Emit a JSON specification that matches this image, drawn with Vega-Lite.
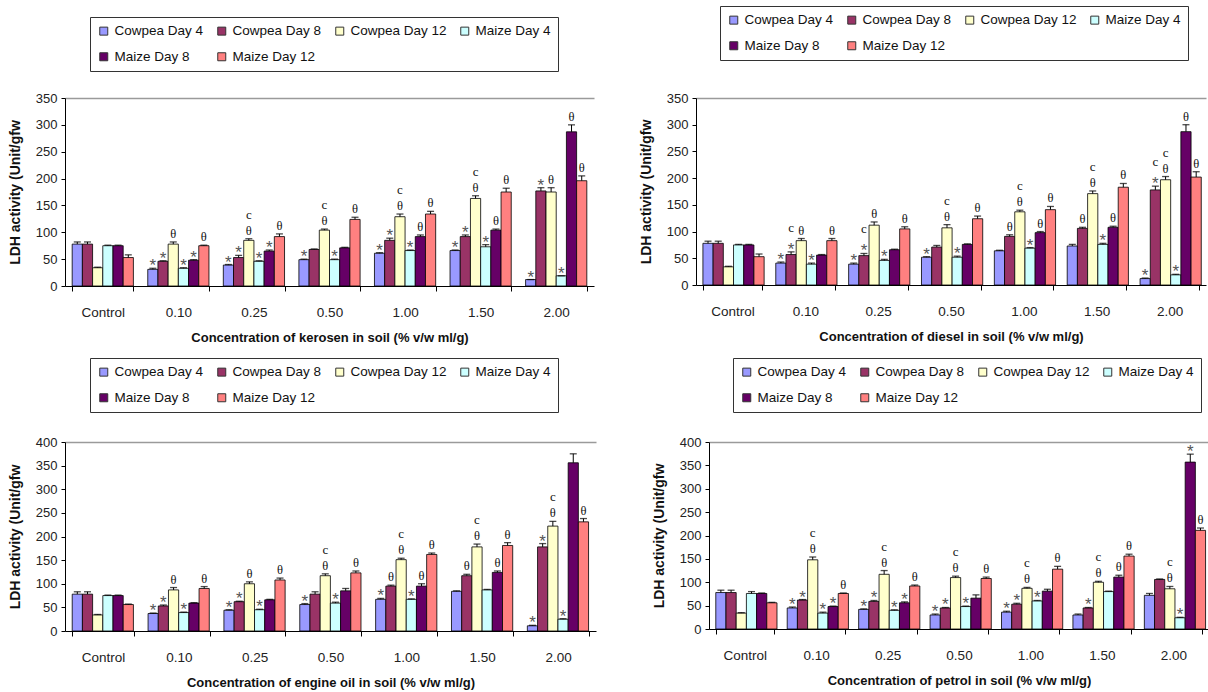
{
"$schema":"https://vega.github.io/schema/vega-lite/v6.json",
"padding":{"left":8,"top":5,"right":0,"bottom":0},
"background":"white",
"config":{
 "view":{"stroke":null},
 "axis":{"labelFont":"Liberation Sans","labelColor":"#222","domainColor":"#000","tickColor":"#000","titleFont":"Liberation Sans","titleFontWeight":"bold","titleColor":"#111"},
 "axisX":{"tickBand":"extent","labelAngle":0,"labelFontSize":13.5,"labelPadding":14,"tickSize":5,"titlePadding":13,"titleFontSize":13},
 "axisY":{"labelFontSize":13,"tickSize":4,"labelPadding":4,"titlePadding":13,"titleFontSize":14,"grid":true,"gridColor":"#9a9a9a","gridWidth":1.5},
 "legend":{"orient":"none","direction":"horizontal","columns":4,"gridAlign":"each","title":null,"symbolType":"square","symbolSize":64,"symbolStrokeColor":"#333","symbolStrokeWidth":1,"labelFont":"Liberation Sans","labelFontSize":13.5,"labelColor":"#111","labelOffset":4,"columnPadding":11,"rowPadding":11,"padding":7,"strokeColor":"#333","strokeWidth":1,"labelLimit":300}
},
"datasets":{
"kerosene":[
{"c":"Control","s":"Cowpea Day 4","v":78,"hi":82,"m":"","k":""},
{"c":"Control","s":"Cowpea Day 8","v":78,"hi":82,"m":"","k":""},
{"c":"Control","s":"Cowpea Day 12","v":34,"hi":35,"m":"","k":""},
{"c":"Control","s":"Maize Day 4","v":75,"hi":76,"m":"","k":""},
{"c":"Control","s":"Maize Day 8","v":75,"hi":76,"m":"","k":""},
{"c":"Control","s":"Maize Day 12","v":53,"hi":58,"m":"","k":""},
{"c":"0.10","s":"Cowpea Day 4","v":31,"hi":33,"m":"*","k":""},
{"c":"0.10","s":"Cowpea Day 8","v":46,"hi":47,"m":"*","k":""},
{"c":"0.10","s":"Cowpea Day 12","v":78,"hi":82,"m":"θ","k":""},
{"c":"0.10","s":"Maize Day 4","v":33,"hi":34,"m":"*","k":""},
{"c":"0.10","s":"Maize Day 8","v":48,"hi":49,"m":"*","k":""},
{"c":"0.10","s":"Maize Day 12","v":75,"hi":76,"m":"θ","k":""},
{"c":"0.25","s":"Cowpea Day 4","v":39,"hi":40,"m":"*","k":""},
{"c":"0.25","s":"Cowpea Day 8","v":53,"hi":57,"m":"*","k":""},
{"c":"0.25","s":"Cowpea Day 12","v":85,"hi":88,"m":"θ","k":"c"},
{"c":"0.25","s":"Maize Day 4","v":46,"hi":47,"m":"*","k":""},
{"c":"0.25","s":"Maize Day 8","v":65,"hi":67,"m":"*","k":""},
{"c":"0.25","s":"Maize Day 12","v":92,"hi":97,"m":"θ","k":""},
{"c":"0.50","s":"Cowpea Day 4","v":49,"hi":50,"m":"*","k":""},
{"c":"0.50","s":"Cowpea Day 8","v":68,"hi":69,"m":"","k":""},
{"c":"0.50","s":"Cowpea Day 12","v":104,"hi":106,"m":"θ","k":"c"},
{"c":"0.50","s":"Maize Day 4","v":49,"hi":50,"m":"*","k":""},
{"c":"0.50","s":"Maize Day 8","v":71,"hi":72,"m":"","k":""},
{"c":"0.50","s":"Maize Day 12","v":124,"hi":128,"m":"θ","k":""},
{"c":"1.00","s":"Cowpea Day 4","v":61,"hi":62,"m":"*","k":""},
{"c":"1.00","s":"Cowpea Day 8","v":85,"hi":89,"m":"*","k":""},
{"c":"1.00","s":"Cowpea Day 12","v":129,"hi":134,"m":"θ","k":"c"},
{"c":"1.00","s":"Maize Day 4","v":66,"hi":67,"m":"*","k":""},
{"c":"1.00","s":"Maize Day 8","v":92,"hi":95,"m":"θ","k":""},
{"c":"1.00","s":"Maize Day 12","v":134,"hi":139,"m":"θ","k":""},
{"c":"1.50","s":"Cowpea Day 4","v":66,"hi":67,"m":"*","k":""},
{"c":"1.50","s":"Cowpea Day 8","v":92,"hi":95,"m":"*","k":""},
{"c":"1.50","s":"Cowpea Day 12","v":163,"hi":168,"m":"θ","k":"c"},
{"c":"1.50","s":"Maize Day 4","v":73,"hi":77,"m":"*","k":""},
{"c":"1.50","s":"Maize Day 8","v":104,"hi":106,"m":"θ","k":""},
{"c":"1.50","s":"Maize Day 12","v":175,"hi":182,"m":"θ","k":""},
{"c":"2.00","s":"Cowpea Day 4","v":12,"hi":12,"m":"*","k":""},
{"c":"2.00","s":"Cowpea Day 8","v":177,"hi":183,"m":"*","k":""},
{"c":"2.00","s":"Cowpea Day 12","v":175,"hi":183,"m":"θ","k":""},
{"c":"2.00","s":"Maize Day 4","v":19,"hi":19,"m":"*","k":""},
{"c":"2.00","s":"Maize Day 8","v":287,"hi":300,"m":"θ","k":""},
{"c":"2.00","s":"Maize Day 12","v":196,"hi":205,"m":"θ","k":""}
],
"diesel":[
{"c":"Control","s":"Cowpea Day 4","v":78,"hi":82,"m":"","k":""},
{"c":"Control","s":"Cowpea Day 8","v":78,"hi":82,"m":"","k":""},
{"c":"Control","s":"Cowpea Day 12","v":34,"hi":35,"m":"","k":""},
{"c":"Control","s":"Maize Day 4","v":75,"hi":76,"m":"","k":""},
{"c":"Control","s":"Maize Day 8","v":75,"hi":76,"m":"","k":""},
{"c":"Control","s":"Maize Day 12","v":53,"hi":58,"m":"","k":""},
{"c":"0.10","s":"Cowpea Day 4","v":41,"hi":43,"m":"*","k":""},
{"c":"0.10","s":"Cowpea Day 8","v":57,"hi":62,"m":"*","k":"c"},
{"c":"0.10","s":"Cowpea Day 12","v":83,"hi":87,"m":"θ","k":""},
{"c":"0.10","s":"Maize Day 4","v":39,"hi":41,"m":"*","k":""},
{"c":"0.10","s":"Maize Day 8","v":56,"hi":57,"m":"","k":""},
{"c":"0.10","s":"Maize Day 12","v":83,"hi":87,"m":"θ","k":""},
{"c":"0.25","s":"Cowpea Day 4","v":39,"hi":41,"m":"*","k":""},
{"c":"0.25","s":"Cowpea Day 8","v":55,"hi":59,"m":"*","k":"c"},
{"c":"0.25","s":"Cowpea Day 12","v":112,"hi":118,"m":"θ","k":""},
{"c":"0.25","s":"Maize Day 4","v":46,"hi":48,"m":"*","k":""},
{"c":"0.25","s":"Maize Day 8","v":66,"hi":67,"m":"","k":""},
{"c":"0.25","s":"Maize Day 12","v":105,"hi":109,"m":"θ","k":""},
{"c":"0.50","s":"Cowpea Day 4","v":52,"hi":53,"m":"*","k":""},
{"c":"0.50","s":"Cowpea Day 8","v":71,"hi":74,"m":"","k":""},
{"c":"0.50","s":"Cowpea Day 12","v":107,"hi":113,"m":"θ","k":"c"},
{"c":"0.50","s":"Maize Day 4","v":52,"hi":54,"m":"*","k":""},
{"c":"0.50","s":"Maize Day 8","v":76,"hi":77,"m":"","k":""},
{"c":"0.50","s":"Maize Day 12","v":124,"hi":129,"m":"θ","k":""},
{"c":"1.00","s":"Cowpea Day 4","v":64,"hi":65,"m":"","k":""},
{"c":"1.00","s":"Cowpea Day 8","v":91,"hi":94,"m":"θ","k":""},
{"c":"1.00","s":"Cowpea Day 12","v":137,"hi":140,"m":"θ","k":"c"},
{"c":"1.00","s":"Maize Day 4","v":69,"hi":70,"m":"*","k":""},
{"c":"1.00","s":"Maize Day 8","v":98,"hi":100,"m":"θ","k":""},
{"c":"1.00","s":"Maize Day 12","v":141,"hi":147,"m":"θ","k":""},
{"c":"1.50","s":"Cowpea Day 4","v":73,"hi":76,"m":"","k":""},
{"c":"1.50","s":"Cowpea Day 8","v":106,"hi":108,"m":"θ","k":""},
{"c":"1.50","s":"Cowpea Day 12","v":171,"hi":176,"m":"θ","k":"c"},
{"c":"1.50","s":"Maize Day 4","v":76,"hi":78,"m":"*","k":""},
{"c":"1.50","s":"Maize Day 8","v":108,"hi":110,"m":"θ","k":""},
{"c":"1.50","s":"Maize Day 12","v":183,"hi":190,"m":"θ","k":""},
{"c":"2.00","s":"Cowpea Day 4","v":12,"hi":13,"m":"*","k":""},
{"c":"2.00","s":"Cowpea Day 8","v":178,"hi":185,"m":"*","k":"c"},
{"c":"2.00","s":"Cowpea Day 12","v":197,"hi":203,"m":"θ","k":"c"},
{"c":"2.00","s":"Maize Day 4","v":19,"hi":20,"m":"*","k":""},
{"c":"2.00","s":"Maize Day 8","v":287,"hi":300,"m":"θ","k":""},
{"c":"2.00","s":"Maize Day 12","v":202,"hi":212,"m":"θ","k":""}
],
"engine":[
{"c":"Control","s":"Cowpea Day 4","v":78,"hi":83,"m":"","k":""},
{"c":"Control","s":"Cowpea Day 8","v":78,"hi":83,"m":"","k":""},
{"c":"Control","s":"Cowpea Day 12","v":34,"hi":35,"m":"","k":""},
{"c":"Control","s":"Maize Day 4","v":75,"hi":76,"m":"","k":""},
{"c":"Control","s":"Maize Day 8","v":75,"hi":76,"m":"","k":""},
{"c":"Control","s":"Maize Day 12","v":56,"hi":57,"m":"","k":""},
{"c":"0.10","s":"Cowpea Day 4","v":37,"hi":38,"m":"*","k":""},
{"c":"0.10","s":"Cowpea Day 8","v":53,"hi":55,"m":"*","k":""},
{"c":"0.10","s":"Cowpea Day 12","v":87,"hi":92,"m":"θ","k":""},
{"c":"0.10","s":"Maize Day 4","v":39,"hi":40,"m":"*","k":""},
{"c":"0.10","s":"Maize Day 8","v":59,"hi":60,"m":"","k":""},
{"c":"0.10","s":"Maize Day 12","v":90,"hi":94,"m":"θ","k":""},
{"c":"0.25","s":"Cowpea Day 4","v":44,"hi":45,"m":"*","k":""},
{"c":"0.25","s":"Cowpea Day 8","v":62,"hi":63,"m":"*","k":""},
{"c":"0.25","s":"Cowpea Day 12","v":100,"hi":104,"m":"θ","k":""},
{"c":"0.25","s":"Maize Day 4","v":45,"hi":46,"m":"*","k":""},
{"c":"0.25","s":"Maize Day 8","v":66,"hi":67,"m":"","k":""},
{"c":"0.25","s":"Maize Day 12","v":108,"hi":112,"m":"θ","k":""},
{"c":"0.50","s":"Cowpea Day 4","v":56,"hi":58,"m":"*","k":""},
{"c":"0.50","s":"Cowpea Day 8","v":78,"hi":83,"m":"","k":""},
{"c":"0.50","s":"Cowpea Day 12","v":117,"hi":121,"m":"θ","k":"c"},
{"c":"0.50","s":"Maize Day 4","v":59,"hi":61,"m":"*","k":""},
{"c":"0.50","s":"Maize Day 8","v":85,"hi":90,"m":"","k":""},
{"c":"0.50","s":"Maize Day 12","v":123,"hi":127,"m":"θ","k":""},
{"c":"1.00","s":"Cowpea Day 4","v":67,"hi":69,"m":"*","k":""},
{"c":"1.00","s":"Cowpea Day 8","v":95,"hi":97,"m":"θ","k":""},
{"c":"1.00","s":"Cowpea Day 12","v":151,"hi":154,"m":"θ","k":"c"},
{"c":"1.00","s":"Maize Day 4","v":67,"hi":68,"m":"*","k":""},
{"c":"1.00","s":"Maize Day 8","v":95,"hi":100,"m":"θ","k":""},
{"c":"1.00","s":"Maize Day 12","v":162,"hi":165,"m":"θ","k":""},
{"c":"1.50","s":"Cowpea Day 4","v":84,"hi":85,"m":"","k":""},
{"c":"1.50","s":"Cowpea Day 8","v":117,"hi":120,"m":"θ","k":""},
{"c":"1.50","s":"Cowpea Day 12","v":178,"hi":184,"m":"θ","k":"c"},
{"c":"1.50","s":"Maize Day 4","v":87,"hi":88,"m":"","k":""},
{"c":"1.50","s":"Maize Day 8","v":124,"hi":127,"m":"θ","k":""},
{"c":"1.50","s":"Maize Day 12","v":181,"hi":187,"m":"θ","k":""},
{"c":"2.00","s":"Cowpea Day 4","v":11,"hi":12,"m":"*","k":""},
{"c":"2.00","s":"Cowpea Day 8","v":178,"hi":185,"m":"*","k":""},
{"c":"2.00","s":"Cowpea Day 12","v":222,"hi":232,"m":"θ","k":"c"},
{"c":"2.00","s":"Maize Day 4","v":25,"hi":26,"m":"*","k":""},
{"c":"2.00","s":"Maize Day 8","v":356,"hi":375,"m":"","k":""},
{"c":"2.00","s":"Maize Day 12","v":231,"hi":238,"m":"θ","k":""}
],
"petrol":[
{"c":"Control","s":"Cowpea Day 4","v":78,"hi":83,"m":"","k":""},
{"c":"Control","s":"Cowpea Day 8","v":78,"hi":83,"m":"","k":""},
{"c":"Control","s":"Cowpea Day 12","v":34,"hi":35,"m":"","k":""},
{"c":"Control","s":"Maize Day 4","v":76,"hi":80,"m":"","k":""},
{"c":"Control","s":"Maize Day 8","v":76,"hi":77,"m":"","k":""},
{"c":"Control","s":"Maize Day 12","v":56,"hi":57,"m":"","k":""},
{"c":"0.10","s":"Cowpea Day 4","v":45,"hi":47,"m":"*","k":""},
{"c":"0.10","s":"Cowpea Day 8","v":62,"hi":63,"m":"*","k":""},
{"c":"0.10","s":"Cowpea Day 12","v":148,"hi":154,"m":"θ","k":"c"},
{"c":"0.10","s":"Maize Day 4","v":34,"hi":36,"m":"*","k":""},
{"c":"0.10","s":"Maize Day 8","v":48,"hi":49,"m":"*","k":""},
{"c":"0.10","s":"Maize Day 12","v":76,"hi":77,"m":"θ","k":""},
{"c":"0.25","s":"Cowpea Day 4","v":42,"hi":43,"m":"*","k":""},
{"c":"0.25","s":"Cowpea Day 8","v":59,"hi":61,"m":"*","k":""},
{"c":"0.25","s":"Cowpea Day 12","v":117,"hi":125,"m":"θ","k":"c"},
{"c":"0.25","s":"Maize Day 4","v":40,"hi":41,"m":"*","k":""},
{"c":"0.25","s":"Maize Day 8","v":56,"hi":58,"m":"*","k":""},
{"c":"0.25","s":"Maize Day 12","v":92,"hi":94,"m":"θ","k":""},
{"c":"0.50","s":"Cowpea Day 4","v":30,"hi":32,"m":"*","k":""},
{"c":"0.50","s":"Cowpea Day 8","v":45,"hi":46,"m":"*","k":""},
{"c":"0.50","s":"Cowpea Day 12","v":110,"hi":113,"m":"θ","k":"c"},
{"c":"0.50","s":"Maize Day 4","v":48,"hi":49,"m":"*","k":""},
{"c":"0.50","s":"Maize Day 8","v":66,"hi":73,"m":"","k":""},
{"c":"0.50","s":"Maize Day 12","v":108,"hi":111,"m":"θ","k":""},
{"c":"1.00","s":"Cowpea Day 4","v":36,"hi":38,"m":"*","k":""},
{"c":"1.00","s":"Cowpea Day 8","v":53,"hi":55,"m":"*","k":""},
{"c":"1.00","s":"Cowpea Day 12","v":87,"hi":89,"m":"θ","k":"c"},
{"c":"1.00","s":"Maize Day 4","v":60,"hi":61,"m":"*","k":""},
{"c":"1.00","s":"Maize Day 8","v":81,"hi":85,"m":"","k":""},
{"c":"1.00","s":"Maize Day 12","v":128,"hi":134,"m":"θ","k":""},
{"c":"1.50","s":"Cowpea Day 4","v":30,"hi":32,"m":"","k":""},
{"c":"1.50","s":"Cowpea Day 8","v":45,"hi":46,"m":"*","k":""},
{"c":"1.50","s":"Cowpea Day 12","v":100,"hi":102,"m":"θ","k":"c"},
{"c":"1.50","s":"Maize Day 4","v":80,"hi":81,"m":"","k":""},
{"c":"1.50","s":"Maize Day 8","v":111,"hi":115,"m":"θ","k":""},
{"c":"1.50","s":"Maize Day 12","v":156,"hi":160,"m":"θ","k":""},
{"c":"2.00","s":"Cowpea Day 4","v":72,"hi":76,"m":"","k":""},
{"c":"2.00","s":"Cowpea Day 8","v":106,"hi":107,"m":"","k":""},
{"c":"2.00","s":"Cowpea Day 12","v":86,"hi":91,"m":"θ","k":"c"},
{"c":"2.00","s":"Maize Day 4","v":24,"hi":25,"m":"*","k":""},
{"c":"2.00","s":"Maize Day 8","v":357,"hi":374,"m":"*","k":""},
{"c":"2.00","s":"Maize Day 12","v":211,"hi":216,"m":"θ","k":""}
]
},
"spacing":12,
"resolve":{"scale":{"color":"independent"}},
"vconcat":[
{"spacing":45,"resolve":{"scale":{"color":"independent"}},"hconcat":[
 {"width":529,"height":188,"data":{"name":"kerosene"},
  "encoding":{
   "x":{"field":"c","type":"nominal","sort":["Control","0.10","0.25","0.50","1.00","1.50","2.00"],"scale":{"paddingInner":0.19,"paddingOuter":0.095},"title":"Concentration of kerosen in soil (% v/w ml/g)"},
   "xOffset":{"field":"s","type":"nominal","sort":["Cowpea Day 4","Cowpea Day 8","Cowpea Day 12","Maize Day 4","Maize Day 8","Maize Day 12"],"scale":{"paddingInner":0,"paddingOuter":0}}
  },
  "layer":[
   {"mark":{"type":"bar","stroke":"#000","strokeWidth":0.8},
    "encoding":{
     "y":{"field":"v","type":"quantitative","scale":{"domain":[0,350],"nice":false},"title":"LDH activity (Unit/gfw","axis":{"values":[0,50,100,150,200,250,300,350],"gridOpacity":{"condition":{"test":"datum.value === 350","value":1},"value":0}}},
     "color":{"field":"s","type":"nominal","scale":{"domain":["Cowpea Day 4","Cowpea Day 8","Cowpea Day 12","Maize Day 4","Maize Day 8","Maize Day 12"],"range":["#9999ff","#993366","#ffffcc","#ccffff","#660066","#ff8080"]},"legend":{"legendX":25,"legendY":-81}}}},
   {"mark":{"type":"rule","color":"#000","strokeWidth":1},"encoding":{"y":{"field":"v","type":"quantitative","title":"LDH activity (Unit/gfw","axis":{"values":[0,50,100,150,200,250,300,350],"gridOpacity":{"condition":{"test":"datum.value === 350","value":1},"value":0}}},"y2":{"field":"hi"}}},
   {"mark":{"type":"tick","orient":"horizontal","size":7,"thickness":1.3,"color":"#000"},"encoding":{"y":{"field":"hi","type":"quantitative","title":"LDH activity (Unit/gfw","axis":{"values":[0,50,100,150,200,250,300,350],"gridOpacity":{"condition":{"test":"datum.value === 350","value":1},"value":0}}}}},
   {"transform":[{"filter":"datum.m == '*'"}],"mark":{"type":"text","font":"Liberation Sans","fontSize":17,"color":"#555","baseline":"middle","dy":-2},"encoding":{"y":{"field":"hi","type":"quantitative","title":"LDH activity (Unit/gfw","axis":{"values":[0,50,100,150,200,250,300,350],"gridOpacity":{"condition":{"test":"datum.value === 350","value":1},"value":0}}},"text":{"field":"m"}}},
   {"transform":[{"filter":"datum.m == 'θ'"}],"mark":{"type":"text","font":"Liberation Serif","fontSize":12.5,"color":"#111","baseline":"middle","dy":-8},"encoding":{"y":{"field":"hi","type":"quantitative","title":"LDH activity (Unit/gfw","axis":{"values":[0,50,100,150,200,250,300,350],"gridOpacity":{"condition":{"test":"datum.value === 350","value":1},"value":0}}},"text":{"field":"m"}}},
   {"transform":[{"filter":"datum.k == 'c'"}],"mark":{"type":"text","font":"Liberation Serif","fontSize":13,"color":"#111","baseline":"middle","dy":-24},"encoding":{"y":{"field":"hi","type":"quantitative","title":"LDH activity (Unit/gfw","axis":{"values":[0,50,100,150,200,250,300,350],"gridOpacity":{"condition":{"test":"datum.value === 350","value":1},"value":0}}},"text":{"field":"k"}}}
  ]},
 {"width":510,"height":187,"data":{"name":"diesel"},
  "encoding":{
   "x":{"field":"c","type":"nominal","sort":["Control","0.10","0.25","0.50","1.00","1.50","2.00"],"scale":{"paddingInner":0.19,"paddingOuter":0.095},"title":"Concentration of diesel in soil (% v/w ml/g)"},
   "xOffset":{"field":"s","type":"nominal","sort":["Cowpea Day 4","Cowpea Day 8","Cowpea Day 12","Maize Day 4","Maize Day 8","Maize Day 12"],"scale":{"paddingInner":0,"paddingOuter":0}}
  },
  "layer":[
   {"mark":{"type":"bar","stroke":"#000","strokeWidth":0.8},
    "encoding":{
     "y":{"field":"v","type":"quantitative","scale":{"domain":[0,350],"nice":false},"title":"LDH activity (Unit/gfw","axis":{"values":[0,50,100,150,200,250,300,350],"gridOpacity":{"condition":{"test":"datum.value === 350","value":1},"value":0}}},
     "color":{"field":"s","type":"nominal","scale":{"domain":["Cowpea Day 4","Cowpea Day 8","Cowpea Day 12","Maize Day 4","Maize Day 8","Maize Day 12"],"range":["#9999ff","#993366","#ffffcc","#ccffff","#660066","#ff8080"]},"legend":{"legendX":24,"legendY":-92}}}},
   {"mark":{"type":"rule","color":"#000","strokeWidth":1},"encoding":{"y":{"field":"v","type":"quantitative","title":"LDH activity (Unit/gfw","axis":{"values":[0,50,100,150,200,250,300,350],"gridOpacity":{"condition":{"test":"datum.value === 350","value":1},"value":0}}},"y2":{"field":"hi"}}},
   {"mark":{"type":"tick","orient":"horizontal","size":7,"thickness":1.3,"color":"#000"},"encoding":{"y":{"field":"hi","type":"quantitative","title":"LDH activity (Unit/gfw","axis":{"values":[0,50,100,150,200,250,300,350],"gridOpacity":{"condition":{"test":"datum.value === 350","value":1},"value":0}}}}},
   {"transform":[{"filter":"datum.m == '*'"}],"mark":{"type":"text","font":"Liberation Sans","fontSize":17,"color":"#555","baseline":"middle","dy":-2},"encoding":{"y":{"field":"hi","type":"quantitative","title":"LDH activity (Unit/gfw","axis":{"values":[0,50,100,150,200,250,300,350],"gridOpacity":{"condition":{"test":"datum.value === 350","value":1},"value":0}}},"text":{"field":"m"}}},
   {"transform":[{"filter":"datum.m == 'θ'"}],"mark":{"type":"text","font":"Liberation Serif","fontSize":12.5,"color":"#111","baseline":"middle","dy":-8},"encoding":{"y":{"field":"hi","type":"quantitative","title":"LDH activity (Unit/gfw","axis":{"values":[0,50,100,150,200,250,300,350],"gridOpacity":{"condition":{"test":"datum.value === 350","value":1},"value":0}}},"text":{"field":"m"}}},
   {"transform":[{"filter":"datum.k == 'c'"}],"mark":{"type":"text","font":"Liberation Serif","fontSize":13,"color":"#111","baseline":"middle","dy":-24},"encoding":{"y":{"field":"hi","type":"quantitative","title":"LDH activity (Unit/gfw","axis":{"values":[0,50,100,150,200,250,300,350],"gridOpacity":{"condition":{"test":"datum.value === 350","value":1},"value":0}}},"text":{"field":"k"}}}
  ]}
]},
{"spacing":56,"resolve":{"scale":{"color":"independent"}},"hconcat":[
 {"width":531,"height":189,"data":{"name":"engine"},
  "encoding":{
   "x":{"field":"c","type":"nominal","sort":["Control","0.10","0.25","0.50","1.00","1.50","2.00"],"scale":{"paddingInner":0.19,"paddingOuter":0.095},"title":"Concentration of engine oil in soil (% v/w ml/g)"},
   "xOffset":{"field":"s","type":"nominal","sort":["Cowpea Day 4","Cowpea Day 8","Cowpea Day 12","Maize Day 4","Maize Day 8","Maize Day 12"],"scale":{"paddingInner":0,"paddingOuter":0}}
  },
  "layer":[
   {"mark":{"type":"bar","stroke":"#000","strokeWidth":0.8},
    "encoding":{
     "y":{"field":"v","type":"quantitative","scale":{"domain":[0,400],"nice":false},"title":"LDH activity (Unit/gfw","axis":{"values":[0,50,100,150,200,250,300,350,400],"gridOpacity":{"condition":{"test":"datum.value === 400","value":1},"value":0}}},
     "color":{"field":"s","type":"nominal","scale":{"domain":["Cowpea Day 4","Cowpea Day 8","Cowpea Day 12","Maize Day 4","Maize Day 8","Maize Day 12"],"range":["#9999ff","#993366","#ffffcc","#ccffff","#660066","#ff8080"]},"legend":{"legendX":25,"legendY":-84}}}},
   {"mark":{"type":"rule","color":"#000","strokeWidth":1},"encoding":{"y":{"field":"v","type":"quantitative","title":"LDH activity (Unit/gfw","axis":{"values":[0,50,100,150,200,250,300,350,400],"gridOpacity":{"condition":{"test":"datum.value === 400","value":1},"value":0}}},"y2":{"field":"hi"}}},
   {"mark":{"type":"tick","orient":"horizontal","size":7,"thickness":1.3,"color":"#000"},"encoding":{"y":{"field":"hi","type":"quantitative","title":"LDH activity (Unit/gfw","axis":{"values":[0,50,100,150,200,250,300,350,400],"gridOpacity":{"condition":{"test":"datum.value === 400","value":1},"value":0}}}}},
   {"transform":[{"filter":"datum.m == '*'"}],"mark":{"type":"text","font":"Liberation Sans","fontSize":17,"color":"#555","baseline":"middle","dy":-2},"encoding":{"y":{"field":"hi","type":"quantitative","title":"LDH activity (Unit/gfw","axis":{"values":[0,50,100,150,200,250,300,350,400],"gridOpacity":{"condition":{"test":"datum.value === 400","value":1},"value":0}}},"text":{"field":"m"}}},
   {"transform":[{"filter":"datum.m == 'θ'"}],"mark":{"type":"text","font":"Liberation Serif","fontSize":12.5,"color":"#111","baseline":"middle","dy":-8},"encoding":{"y":{"field":"hi","type":"quantitative","title":"LDH activity (Unit/gfw","axis":{"values":[0,50,100,150,200,250,300,350,400],"gridOpacity":{"condition":{"test":"datum.value === 400","value":1},"value":0}}},"text":{"field":"m"}}},
   {"transform":[{"filter":"datum.k == 'c'"}],"mark":{"type":"text","font":"Liberation Serif","fontSize":13,"color":"#111","baseline":"middle","dy":-24},"encoding":{"y":{"field":"hi","type":"quantitative","title":"LDH activity (Unit/gfw","axis":{"values":[0,50,100,150,200,250,300,350,400],"gridOpacity":{"condition":{"test":"datum.value === 400","value":1},"value":0}}},"text":{"field":"k"}}}
  ]},
 {"width":500,"height":187,"data":{"name":"petrol"},
  "encoding":{
   "x":{"field":"c","type":"nominal","sort":["Control","0.10","0.25","0.50","1.00","1.50","2.00"],"scale":{"paddingInner":0.19,"paddingOuter":0.095},"title":"Concentration of petrol in soil (% v/w ml/g)"},
   "xOffset":{"field":"s","type":"nominal","sort":["Cowpea Day 4","Cowpea Day 8","Cowpea Day 12","Maize Day 4","Maize Day 8","Maize Day 12"],"scale":{"paddingInner":0,"paddingOuter":0}}
  },
  "layer":[
   {"mark":{"type":"bar","stroke":"#000","strokeWidth":0.8},
    "encoding":{
     "y":{"field":"v","type":"quantitative","scale":{"domain":[0,400],"nice":false},"title":"LDH activity (Unit/gfw","axis":{"values":[0,50,100,150,200,250,300,350,400],"gridOpacity":{"condition":{"test":"datum.value === 400","value":1},"value":0}}},
     "color":{"field":"s","type":"nominal","scale":{"domain":["Cowpea Day 4","Cowpea Day 8","Cowpea Day 12","Maize Day 4","Maize Day 8","Maize Day 12"],"range":["#9999ff","#993366","#ffffcc","#ccffff","#660066","#ff8080"]},"legend":{"legendX":24,"legendY":-84}}}},
   {"mark":{"type":"rule","color":"#000","strokeWidth":1},"encoding":{"y":{"field":"v","type":"quantitative","title":"LDH activity (Unit/gfw","axis":{"values":[0,50,100,150,200,250,300,350,400],"gridOpacity":{"condition":{"test":"datum.value === 400","value":1},"value":0}}},"y2":{"field":"hi"}}},
   {"mark":{"type":"tick","orient":"horizontal","size":7,"thickness":1.3,"color":"#000"},"encoding":{"y":{"field":"hi","type":"quantitative","title":"LDH activity (Unit/gfw","axis":{"values":[0,50,100,150,200,250,300,350,400],"gridOpacity":{"condition":{"test":"datum.value === 400","value":1},"value":0}}}}},
   {"transform":[{"filter":"datum.m == '*'"}],"mark":{"type":"text","font":"Liberation Sans","fontSize":17,"color":"#555","baseline":"middle","dy":-2},"encoding":{"y":{"field":"hi","type":"quantitative","title":"LDH activity (Unit/gfw","axis":{"values":[0,50,100,150,200,250,300,350,400],"gridOpacity":{"condition":{"test":"datum.value === 400","value":1},"value":0}}},"text":{"field":"m"}}},
   {"transform":[{"filter":"datum.m == 'θ'"}],"mark":{"type":"text","font":"Liberation Serif","fontSize":12.5,"color":"#111","baseline":"middle","dy":-8},"encoding":{"y":{"field":"hi","type":"quantitative","title":"LDH activity (Unit/gfw","axis":{"values":[0,50,100,150,200,250,300,350,400],"gridOpacity":{"condition":{"test":"datum.value === 400","value":1},"value":0}}},"text":{"field":"m"}}},
   {"transform":[{"filter":"datum.k == 'c'"}],"mark":{"type":"text","font":"Liberation Serif","fontSize":13,"color":"#111","baseline":"middle","dy":-24},"encoding":{"y":{"field":"hi","type":"quantitative","title":"LDH activity (Unit/gfw","axis":{"values":[0,50,100,150,200,250,300,350,400],"gridOpacity":{"condition":{"test":"datum.value === 400","value":1},"value":0}}},"text":{"field":"k"}}}
  ]}
]}
]
}
